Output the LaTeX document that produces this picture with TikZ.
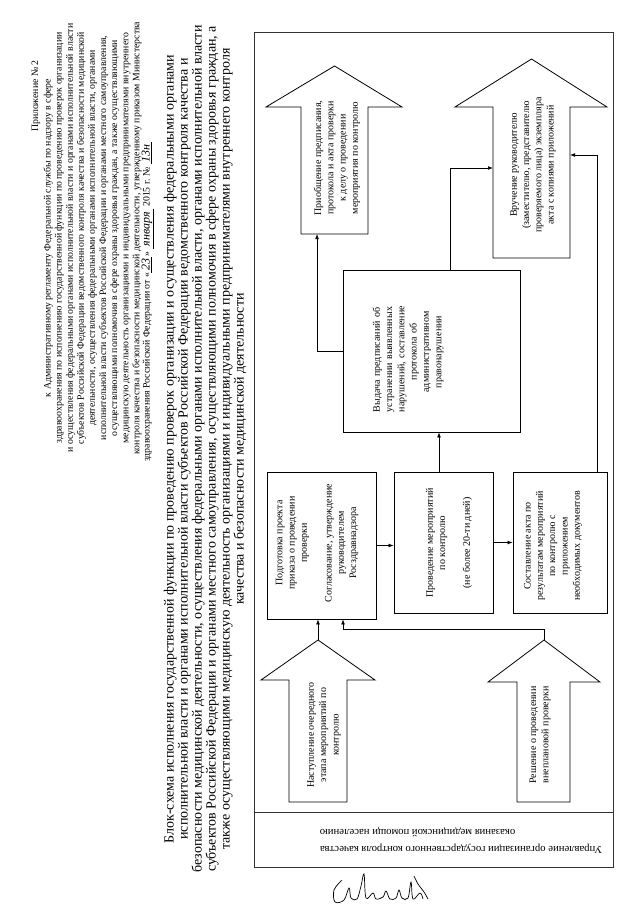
\documentclass[tikz,border=0pt]{standalone}
\usepackage{fontspec}
\setmainfont{Liberation Serif}
\usetikzlibrary{arrows.meta}
\begin{document}
\begin{tikzpicture}[x=1pt,y=-1pt,
  frm/.style={line width=0.6pt, black!80},
  box/.style={draw, line width=0.8pt, inner sep=0pt},
  barrow/.style={draw, line width=0.8pt, line join=miter},
  conn/.style={line width=0.7pt, -{Latex[length=5pt,width=3.8pt]}},
  rt/.style={rotate=90, align=center, inner sep=0pt, font=\fontsize{10}{12.3}\selectfont},
  hd/.style={rotate=90, align=center, inner sep=0pt, font=\fontsize{9.8}{11.1}\selectfont},
]
\path[use as bounding box, fill=white] (0,0) rectangle (640,905);

% ---------- header ----------
\node[hd] (apx) at (36,96) {Приложение № 2};
\node[hd] (hdr) at (92.5,238) {к Административному регламенту Федеральной службы по надзору в сфере\\
здравоохранения по исполнению государственной функции по проведению проверок организации\\
и осуществления федеральными органами исполнительной власти и органами исполнительной власти\\
субъектов Российской Федерации ведомственного контроля качества и безопасности медицинской\\
деятельности, осуществления федеральными органами исполнительной власти, органами\\
исполнительной власти субъектов Российской Федерации и органами местного самоуправления,\\
осуществляющими полномочия в сфере охраны здоровья граждан, а также осуществляющими\\
медицинскую деятельность организациями и индивидуальными предпринимателями внутреннего\\
контроля качества и безопасности медицинской деятельности, утвержденному приказом Министерства};
\node[hd] (hdate) at (148,302) {здравоохранения Российской Федерации от «\underline{\textit{\large\,23\,}}» \underline{\textit{\large\ января\ }} 2015 г. № \underline{\textit{\large\,13н\,}}};

% ---------- title ----------
\node[rotate=90, align=center, inner sep=0pt, font=\fontsize{14}{14}\selectfont] (title) at (205,449) {Блок-схема исполнения государственной функции по проведению проверок организации и осуществления федеральными органами\\
исполнительной власти и органами исполнительной власти субъектов Российской Федерации ведомственного контроля качества и\\
безопасности медицинской деятельности, осуществления федеральными органами исполнительной власти, органами исполнительной власти\\
субъектов Российской Федерации и органами местного самоуправления, осуществляющими полномочия в сфере охраны здоровья граждан, а\\
также осуществляющими медицинскую деятельность организациями и индивидуальными предпринимателями внутреннего контроля\\
качества и безопасности медицинской деятельности};

% ---------- lane frame ----------
\draw[frm] (254,32) rectangle (613,867);
\draw[frm] (254,812) -- (613,812);
\node[rotate=180, align=right, inner sep=0pt, font=\fontsize{10.7}{17}\selectfont] (lane) at (461,840.5) {Управление организации государственного контроля качества\\оказания медицинской помощи населению};

% ---------- block arrows ----------
\draw[barrow] (301,234) -- (301,107) -- (266,107) -- (334.5,66) -- (402,107) -- (368,107) -- (368,234) -- cycle;
\coordinate (tlin) at (317,234);
\node[rt] (tlt) at (337,158) {Приобщение предписания,\\протокола и акта проверки\\к делу о проведении\\мероприятия по контролю};

\draw[barrow] (493,258) -- (493,107) -- (455,107) -- (531.5,59) -- (607,107) -- (570,107) -- (570,258) -- cycle;
\coordinate (trinl) at (493,168);
\coordinate (trinr) at (570,155);
\node[rt] (trt) at (533,165) {Вручение руководителю\\(заместителю, представителю\\проверяемого лица) экземпляра\\акта с копиями приложений};

\draw[barrow] (289,802) -- (289,680) -- (261,680) -- (318,640) -- (375,680) -- (347,680) -- (347,802) -- cycle;
\coordinate (bltip) at (318,640);
\node[rt] (blt) at (324,735) {Наступление очередного\\этапа мероприятий по\\контролю};

\draw[barrow] (517,802) -- (517,682) -- (488,682) -- (544,640) -- (600,682) -- (570,682) -- (570,802) -- cycle;
\coordinate (brtip) at (544,640);
\node[rt] (brt) at (540,735) {Решение о проведении\\внеплановой проверки};

% ---------- boxes ----------
\node[box, minimum width=177pt, minimum height=162pt] (big) at (431.5,351) {};
\node[rt, text width=120pt, align=center] (bigt) at (408,352) {\makebox[\linewidth][s]{Выдача предписаний об}\\\makebox[\linewidth][s]{устранении выявленных}\\\makebox[\linewidth][s]{нарушений, составление}\\протокола об\\административном\\правонарушении};

\node[box, minimum width=109pt, minimum height=147pt] (prep) at (321.5,545.5) {};
\node[rt] (prept) at (317,543) {Подготовка проекта\\приказа о проведении\\проверки\\[12.3pt]Согласование, утверждение\\руководителем\\Росздравнадзора};

\node[box, minimum width=99pt, minimum height=141pt] (cond) at (443.5,542.5) {};
\node[rt] (condt) at (449,543) {Проведение мероприятий\\по контролю\\[12.3pt](не более 20-ти дней)};

\node[box, minimum width=94pt, minimum height=141pt] (act) at (560,542.5) {};
\node[rt] (actt) at (553,546) {Составление акта по\\результатам мероприятий\\по контролю с\\приложением\\необходимых документов};

% ---------- connectors ----------
\coordinate (j1) at (343,629);
\draw[conn] (bltip) -- (bltip |- prep.south);
\draw[conn] (brtip) |- (j1) -- (j1 |- prep.south);
\draw[conn] (prep.east) -- (prep.east -| cond.west);
\draw[conn] (cond.east) -- (cond.east -| act.west);
\draw[conn] ([xshift=-4.5pt]cond.north) -- ([xshift=-4.5pt]cond.north |- big.south);
\draw[conn] (big.west) -| (tlin);
\draw[conn] ([xshift=18.5pt]big.north) |- (trinl);
\draw[conn] ([xshift=37pt]act.north) |- (trinr);

% ---------- signature ----------
\draw[line width=0.7pt] plot[smooth, tension=0.6] coordinates {(342,880) (334,890) (335,902) (344,900) (349,888) (351,898) (357,899) (361,886) (364,874) (366,898) (373,893) (376,899) (383,897) (386,891) (390,899) (396,898) (399,890) (402,898) (408,898) (411,882) (413,899) (420,893) (423,899)};
\draw[line width=0.7pt] plot[smooth] coordinates {(414,876) (418,884) (424,892) (428,899)};
\end{tikzpicture}
\end{document}
